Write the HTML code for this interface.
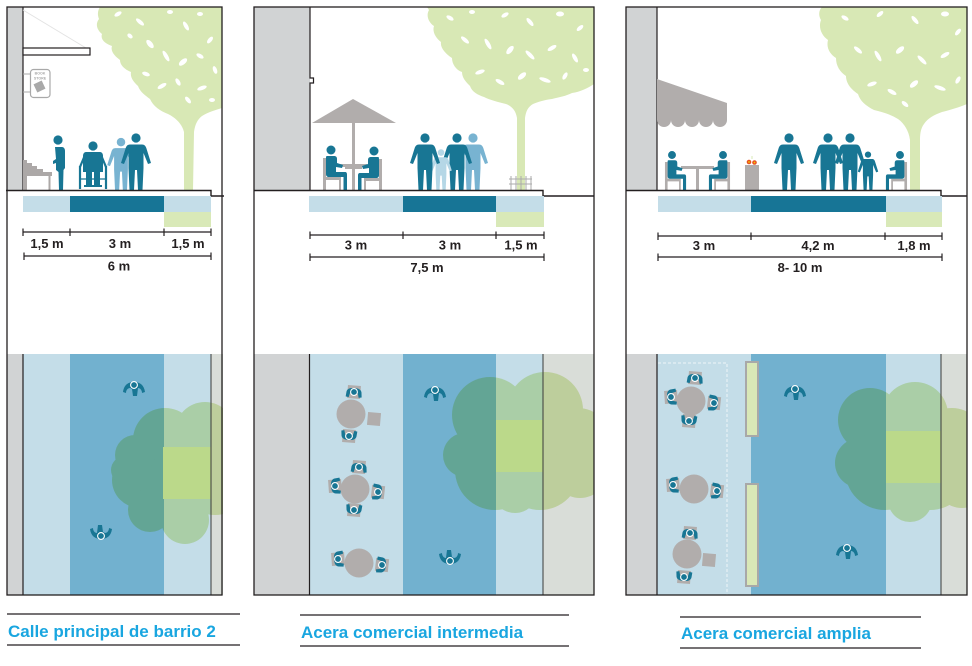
<!DOCTYPE html>
<html><head><meta charset="utf-8"><style>
html,body{margin:0;padding:0;background:#fff;}
svg{display:block}
text{font-family:"Liberation Sans",Arial,sans-serif;font-weight:bold}
</style></head><body>
<svg width="972" height="666" viewBox="0 0 972 666" xmlns="http://www.w3.org/2000/svg">
<defs>
<clipPath id="s1"><rect x="7" y="7" width="215" height="183.5"/></clipPath>
<clipPath id="s2"><rect x="254" y="7" width="340" height="183.5"/></clipPath>
<clipPath id="s3"><rect x="626" y="7" width="341" height="183.5"/></clipPath>
<clipPath id="p1"><rect x="7" y="354" width="216" height="241"/></clipPath>
<clipPath id="p2"><rect x="254" y="354" width="340" height="241"/></clipPath>
<clipPath id="p3"><rect x="626" y="354" width="341" height="241"/></clipPath>
<g id="st">
<circle cx="0" cy="-52" r="4.6"/>
<path d="M-6,-45.5 L6,-45.5 C8.5,-45.5 9.5,-44 10.3,-42 L15,-27 L12,-26 L7.5,-37 L7.5,-22 L6.5,0 L2,0 L1,-20 L-1,-20 L-2,0 L-6.5,0 L-7.5,-22 L-7.5,-37 L-12,-26 L-15,-27 L-10.3,-42 C-9.5,-44 -8.5,-45.5 -6,-45.5 Z"/>
</g>
<g id="sit">
<path fill="#b1adac" d="M-8,8 L-5,8 L-5,27 L10,27 L10,40 L8,40 L8,30 L-5,30 L-5,40 L-8,40 Z"/>
<circle cx="0" cy="0" r="4.5" fill="#187694"/>
<path fill="#187694" d="M-4,6 L3,6 C5,6 6,7 6,9 L6,13 L12,15 L11,18 L5,17 L5,22 L14,22 C15.5,22 16,23 16,24.5 L16,40 L12.5,40 L12.5,27 L-2,27 C-4,27 -5,26 -5,24 L-5,9 C-5,7 -5,6 -4,6 Z"/>
</g>
<g id="walk">
<path fill="#187694" d="M-11,7 C-10,0 -6,-3 0,-3 C6,-3 10,0 11,7 L8,8 C8,5 6,3 4,3 L3,11 L-1,11 L-2,4 L-4,3 C-6,3 -8,5 -8,8 Z"/>
<circle r="3.4" fill="#187694" stroke="#fff" stroke-width="1.1"/>
</g>
<g id="seat">
<rect x="-6.5" y="-6.5" width="13" height="13" fill="#b1adac"/>
<path fill="#187694" d="M-8,5 L-7.5,0 C-7,-3 -4,-4 0,-4 C4,-4 7,-3 7.5,0 L8,5 L5,5.5 L4,1.5 L-4,1.5 L-5,5.5 Z"/>
<circle r="3.4" fill="#187694" stroke="#fff" stroke-width="1.1"/>
</g>
</defs>

<!-- ============ PANEL 1 SECTION ============ -->
<g clip-path="url(#s1)">
<path fill="#d8e8b5" d="M100,7 L222,7 L222,108 C216,110 208,112 202,116 C198,119 195,124 194,132 L193,190 L184,190 L184,132 C182,124 176,118 168,114 C160,111 153,106 150,99 C146,96 140,92 138,86 C134,82 130,78 131,72 C126,70 120,66 120,60 C116,57 110,52 112,46 C106,44 100,40 102,34 C97,30 95,24 99,19 C97,14 98,10 100,7 Z"/>
<g fill="#fff">
<ellipse cx="118" cy="14" rx="4" ry="2" transform="rotate(-30 118 14)"/>
<ellipse cx="140" cy="22" rx="5" ry="2" transform="rotate(40 140 22)"/>
<ellipse cx="170" cy="12" rx="3" ry="2"/>
<ellipse cx="186" cy="26" rx="5" ry="2" transform="rotate(60 186 26)"/>
<ellipse cx="200" cy="14" rx="3" ry="2"/>
<ellipse cx="210" cy="40" rx="4" ry="2" transform="rotate(-50 210 40)"/>
<ellipse cx="150" cy="44" rx="5" ry="2.5" transform="rotate(50 150 44)"/>
<ellipse cx="166" cy="56" rx="6" ry="2" transform="rotate(60 166 56)"/>
<ellipse cx="183" cy="62" rx="5" ry="2.5" transform="rotate(-40 183 62)"/>
<ellipse cx="200" cy="56" rx="4" ry="2" transform="rotate(30 200 56)"/>
<ellipse cx="215" cy="70" rx="4" ry="2" transform="rotate(70 215 70)"/>
<ellipse cx="146" cy="74" rx="4" ry="2" transform="rotate(20 146 74)"/>
<ellipse cx="162" cy="86" rx="5" ry="2" transform="rotate(-30 162 86)"/>
<ellipse cx="178" cy="82" rx="4" ry="2" transform="rotate(60 178 82)"/>
<ellipse cx="202" cy="88" rx="5" ry="2" transform="rotate(-20 202 88)"/>
<ellipse cx="188" cy="100" rx="4" ry="2" transform="rotate(50 188 100)"/>
<ellipse cx="212" cy="100" rx="3" ry="2"/>
<ellipse cx="130" cy="36" rx="3" ry="2" transform="rotate(40 130 36)"/>
</g>
</g>
<rect x="7" y="7" width="16" height="183" fill="#d1d3d4"/>
<line x1="23" y1="7" x2="23" y2="190" stroke="#231f20" stroke-width="1.2"/>
<line x1="23" y1="10" x2="86" y2="48" stroke="#e3e3e3" stroke-width="1"/>
<rect x="23" y="48" width="67" height="7" fill="#fff" stroke="#231f20" stroke-width="1.2"/>
<line x1="23" y1="74" x2="31" y2="74" stroke="#a9a9a9" stroke-width="1"/>
<line x1="23" y1="92" x2="31" y2="92" stroke="#a9a9a9" stroke-width="1"/>
<rect x="30.5" y="69.5" width="19.5" height="28" rx="3" fill="#fff" stroke="#a9a9a9" stroke-width="1.2"/>
<text x="40" y="74.5" font-size="3.6" fill="#a9a9a9" text-anchor="middle">BOOK</text>
<text x="40" y="79.5" font-size="3.6" fill="#a9a9a9" text-anchor="middle">STORE</text>
<rect x="35" y="82" width="9" height="9" fill="#a9a9a9" transform="rotate(-25 39.5 86.5)"/>
<path fill="#aca8a7" d="M23,160 L27,160 L27,163 L32,163 L32,166 L37,166 L37,169 L43,169 L43,172 L52,172 L52,176 L50.5,176 L50.5,190 L48.5,190 L48.5,176 L27,176 L27,190 L23,190 Z"/>
<g fill="#187694">
<circle cx="58" cy="140" r="4.6"/>
<path d="M55,147 L62,147 C64,147 65,149 65,151 L65,168 L63.5,170 L63,190 L59,190 L58.5,172 L56,170 L56,163 L53,164 L53,161 L56,159 Z"/>
</g>
<g fill="#187694" stroke="none">
<circle cx="93" cy="146" r="4.6"/>
<path d="M86,152 L100,152 C102,152 103,154 103,156 L103,172 L83,172 L83,156 C83,154 84,152 86,152 Z"/>
<rect x="86" y="172" width="6" height="14"/>
<rect x="94" y="172" width="6" height="14"/>
<rect x="84" y="185" width="18" height="2"/>
</g>
<g stroke="#187694" stroke-width="2.2" fill="none">
<line x1="85" y1="155" x2="80" y2="167"/>
<line x1="101" y1="155" x2="106" y2="167"/>
<line x1="80" y1="166" x2="80" y2="189"/>
<line x1="106" y1="166" x2="106" y2="189"/>
<line x1="80" y1="179" x2="106" y2="179" stroke-width="1.2"/>
</g>
<g fill="#78b3d1" transform="translate(121,190) scale(0.92)"><use href="#st"/></g>
<g fill="#187694" transform="translate(136,190)"><use href="#st"/></g>
<path d="M6,190.5 L211,190.5 L211,196 L224,196" fill="none" stroke="#231f20" stroke-width="1.4"/>
<rect x="23" y="196" width="47" height="16" fill="#c4dde8"/>
<rect x="70" y="196" width="94" height="16" fill="#177596"/>
<rect x="164" y="196" width="47" height="16" fill="#c4dde8"/>
<rect x="164" y="212" width="47" height="15" fill="#d9e9b8"/>
<g stroke="#231f20" stroke-width="1.2">
<line x1="23" y1="232" x2="211" y2="232"/>
<line x1="23" y1="228.5" x2="23" y2="236"/>
<line x1="70" y1="228.5" x2="70" y2="236"/>
<line x1="164" y1="228.5" x2="164" y2="236"/>
<line x1="211" y1="228.5" x2="211" y2="236"/>
<line x1="24" y1="256" x2="211" y2="256"/>
<line x1="24" y1="252.5" x2="24" y2="260"/>
<line x1="211" y1="252.5" x2="211" y2="260"/>
</g>
<g font-size="13" fill="#231f20" text-anchor="middle">
<text x="47" y="248">1,5 m</text>
<text x="120" y="248">3 m</text>
<text x="188" y="248">1,5 m</text>
<text x="119" y="270.5">6 m</text>
</g>

<!-- ============ PANEL 1 PLAN ============ -->
<g clip-path="url(#p1)">
<rect x="7" y="354" width="16" height="241" fill="#d1d3d4"/>
<rect x="23" y="354" width="47" height="241" fill="#c4dde8"/>
<rect x="70" y="354" width="94" height="241" fill="#72b1cf"/>
<rect x="164" y="354" width="47" height="241" fill="#c4dde8"/>
<rect x="211" y="354" width="12" height="241" fill="#d9ddd8"/>
<g style="mix-blend-mode:multiply">
<g fill="#deeeb8">
<circle cx="165" cy="440" r="32"/><circle cx="205" cy="432" r="30"/><circle cx="140" cy="480" r="28"/><circle cx="175" cy="490" r="40"/><circle cx="215" cy="480" r="35"/><circle cx="185" cy="520" r="24"/><circle cx="150" cy="510" r="22"/><circle cx="125" cy="470" r="14"/><circle cx="135" cy="455" r="20"/>
</g>
</g>
</g>
<rect x="163" y="447" width="48" height="52" fill="#bbd98a"/>
<use href="#walk" x="134" y="385"/>
<g transform="translate(101,536) rotate(180)"><use href="#walk"/></g>
<line x1="23" y1="354" x2="23" y2="595" stroke="#231f20" stroke-width="1.2"/>
<line x1="211" y1="354" x2="211" y2="595" stroke="#3a3a3a" stroke-width="1"/>
<rect x="7" y="7" width="215" height="588" fill="none" stroke="#231f20" stroke-width="1.3"/>

<!-- ============ PANEL 2 SECTION ============ -->
<g clip-path="url(#s2)">
<path fill="#d8e8b5" d="M427,7 L594,7 L594,84 C588,88 580,92 572,93 C566,96 560,97 552,99 C544,100 538,102 533,104 C528,107 526,111 525,118 L525,190 L517,190 L517,118 C516,111 512,106 506,104 C498,102 490,100 484,97 C478,95 472,92 470,86 C466,82 462,78 462,72 C456,70 452,64 452,58 C446,54 440,48 441,42 C436,38 432,32 434,26 C428,22 426,15 429,10 Z"/>
<g fill="#fff">
<ellipse cx="450" cy="18" rx="4" ry="2" transform="rotate(30 450 18)"/>
<ellipse cx="472" cy="12" rx="3" ry="2"/>
<ellipse cx="505" cy="15" rx="4" ry="2" transform="rotate(-30 505 15)"/>
<ellipse cx="530" cy="22" rx="5" ry="2" transform="rotate(50 530 22)"/>
<ellipse cx="560" cy="14" rx="4" ry="2.5"/>
<ellipse cx="580" cy="28" rx="4" ry="2" transform="rotate(-40 580 28)"/>
<ellipse cx="465" cy="40" rx="5" ry="2" transform="rotate(40 465 40)"/>
<ellipse cx="488" cy="44" rx="6" ry="2" transform="rotate(60 488 44)"/>
<ellipse cx="510" cy="50" rx="5" ry="2.5" transform="rotate(-50 510 50)"/>
<ellipse cx="530" cy="55" rx="6" ry="2" transform="rotate(45 530 55)"/>
<ellipse cx="552" cy="48" rx="5" ry="2" transform="rotate(-30 552 48)"/>
<ellipse cx="575" cy="58" rx="5" ry="2" transform="rotate(60 575 58)"/>
<ellipse cx="480" cy="72" rx="5" ry="2" transform="rotate(-20 480 72)"/>
<ellipse cx="500" cy="82" rx="5" ry="2" transform="rotate(30 500 82)"/>
<ellipse cx="522" cy="76" rx="5" ry="2.5" transform="rotate(-40 522 76)"/>
<ellipse cx="545" cy="80" rx="6" ry="2" transform="rotate(20 545 80)"/>
<ellipse cx="565" cy="76" rx="4" ry="2" transform="rotate(-60 565 76)"/>
<ellipse cx="586" cy="70" rx="3" ry="2"/>
</g>
</g>
<rect x="254" y="7" width="56" height="183" fill="#d1d3d4"/>
<path d="M310,7 L310,78 L313.5,78 L313.5,83 L310,83 L310,190" fill="none" stroke="#231f20" stroke-width="1.2"/>
<path fill="#b1adac" d="M312,123 L353,99 L396,123 Z"/>
<rect x="352" y="123" width="3" height="67" fill="#b1adac"/>
<rect x="340" y="164" width="27" height="3" fill="#b1adac"/>
<rect x="345" y="167" width="17" height="2" fill="#b1adac"/>
<use href="#sit" x="331" y="150"/>
<g transform="translate(374,151) scale(-1,1)"><use href="#sit"/></g>
<g stroke="#ababab" stroke-width="1" fill="none">
<line x1="509" y1="179" x2="532" y2="179"/><line x1="509" y1="184" x2="532" y2="184"/>
<line x1="511" y1="176" x2="511" y2="190"/><line x1="516" y1="176" x2="516" y2="190"/><line x1="521" y1="176" x2="521" y2="190"/><line x1="526" y1="176" x2="526" y2="190"/><line x1="531" y1="176" x2="531" y2="190"/>
</g>
<g fill="#78b3d1" transform="translate(473,190)"><use href="#st"/></g>
<g fill="#187694" transform="translate(457,190)"><use href="#st"/></g>
<g fill="#b5d7e6" transform="translate(441,190) scale(0.72)"><use href="#st"/></g>
<g fill="#187694" transform="translate(425,190)"><use href="#st"/></g>
<path d="M254,190.5 L543,190.5 L543,196 L594,196" fill="none" stroke="#231f20" stroke-width="1.4"/>
<rect x="309" y="196" width="94" height="16" fill="#c4dde8"/>
<rect x="403" y="196" width="93" height="16" fill="#177596"/>
<rect x="496" y="196" width="48" height="16" fill="#c4dde8"/>
<rect x="496" y="212" width="48" height="15" fill="#d9e9b8"/>
<g stroke="#231f20" stroke-width="1.2">
<line x1="310" y1="235" x2="544" y2="235"/>
<line x1="310" y1="231.5" x2="310" y2="239"/>
<line x1="403" y1="231.5" x2="403" y2="239"/>
<line x1="496" y1="231.5" x2="496" y2="239"/>
<line x1="544" y1="231.5" x2="544" y2="239"/>
<line x1="310" y1="257" x2="544" y2="257"/>
<line x1="310" y1="253.5" x2="310" y2="261"/>
<line x1="544" y1="253.5" x2="544" y2="261"/>
</g>
<g font-size="13" fill="#231f20" text-anchor="middle">
<text x="356" y="249.5">3 m</text>
<text x="450" y="249.5">3 m</text>
<text x="521" y="249.5">1,5 m</text>
<text x="427" y="272">7,5 m</text>
</g>

<!-- ============ PANEL 2 PLAN ============ -->
<g clip-path="url(#p2)">
<rect x="254" y="354" width="55" height="241" fill="#d1d3d4"/>
<rect x="309" y="354" width="94" height="241" fill="#c4dde8"/>
<rect x="403" y="354" width="93" height="241" fill="#72b1cf"/>
<rect x="496" y="354" width="47" height="241" fill="#c4dde8"/>
<rect x="543" y="354" width="51" height="241" fill="#d9ddd8"/>
<g style="mix-blend-mode:multiply">
<g fill="#deeeb8">
<circle cx="490" cy="415" r="38"/><circle cx="545" cy="410" r="38"/><circle cx="578" cy="440" r="32"/><circle cx="465" cy="455" r="22"/><circle cx="495" cy="470" r="40"/><circle cx="540" cy="470" r="40"/><circle cx="580" cy="470" r="28"/><circle cx="515" cy="490" r="23"/>
</g>
</g>
</g>
<rect x="496" y="420" width="47" height="52" fill="#bbd98a"/>
<g fill="#b1adac">
<circle cx="351" cy="414" r="14.5"/>
<circle cx="355" cy="489" r="14.5"/>
<circle cx="359" cy="563" r="14.5"/>
<rect x="367.5" y="412.5" width="13" height="13" transform="rotate(5 374 419)"/>
</g>
<g transform="translate(354,392) rotate(4)"><use href="#seat"/></g>
<g transform="translate(349,436) rotate(184)"><use href="#seat"/></g>
<g transform="translate(359,467) rotate(4)"><use href="#seat"/></g>
<g transform="translate(335,486) rotate(-94)"><use href="#seat"/></g>
<g transform="translate(378,492) rotate(96)"><use href="#seat"/></g>
<g transform="translate(354,510) rotate(184)"><use href="#seat"/></g>
<g transform="translate(338,559) rotate(-94)"><use href="#seat"/></g>
<g transform="translate(382,565) rotate(96)"><use href="#seat"/></g>
<use href="#walk" x="435" y="390"/>
<g transform="translate(450,561) rotate(180)"><use href="#walk"/></g>
<line x1="309.5" y1="354" x2="309.5" y2="595" stroke="#231f20" stroke-width="1.2"/>
<line x1="543" y1="354" x2="543" y2="595" stroke="#3a3a3a" stroke-width="1"/>
<rect x="254" y="7" width="340" height="588" fill="none" stroke="#231f20" stroke-width="1.3"/>

<!-- ============ PANEL 3 SECTION ============ -->
<g clip-path="url(#s3)">
<path fill="#d8e8b5" d="M822,7 L967,7 L967,104 C960,107 950,110 942,112 C934,115 928,118 924,124 C921,128 920,133 920,140 L920,190 L910,190 L910,140 C909,132 905,124 898,119 C890,114 882,112 874,110 C866,106 860,101 858,94 C852,90 846,84 846,76 C840,72 836,66 836,58 C830,54 826,48 828,40 C822,36 818,28 821,20 C818,15 819,10 822,7 Z"/>
<g fill="#fff">
<ellipse cx="845" cy="18" rx="4" ry="2" transform="rotate(30 845 18)"/>
<ellipse cx="880" cy="14" rx="4" ry="2" transform="rotate(-40 880 14)"/>
<ellipse cx="915" cy="20" rx="5" ry="2" transform="rotate(50 915 20)"/>
<ellipse cx="945" cy="14" rx="4" ry="2.5"/>
<ellipse cx="958" cy="32" rx="4" ry="2" transform="rotate(-50 958 32)"/>
<ellipse cx="858" cy="50" rx="5" ry="2" transform="rotate(40 858 50)"/>
<ellipse cx="878" cy="56" rx="6" ry="2" transform="rotate(60 878 56)"/>
<ellipse cx="900" cy="50" rx="5" ry="2.5" transform="rotate(-40 900 50)"/>
<ellipse cx="922" cy="60" rx="6" ry="2" transform="rotate(45 922 60)"/>
<ellipse cx="945" cy="55" rx="5" ry="2" transform="rotate(-30 945 55)"/>
<ellipse cx="872" cy="84" rx="5" ry="2" transform="rotate(-20 872 84)"/>
<ellipse cx="892" cy="92" rx="5" ry="2" transform="rotate(30 892 92)"/>
<ellipse cx="914" cy="84" rx="5" ry="2.5" transform="rotate(-40 914 84)"/>
<ellipse cx="940" cy="88" rx="6" ry="2" transform="rotate(20 940 88)"/>
<ellipse cx="958" cy="80" rx="4" ry="2" transform="rotate(-60 958 80)"/>
<ellipse cx="905" cy="104" rx="4" ry="2" transform="rotate(40 905 104)"/>
</g>
</g>
<rect x="626" y="7" width="31" height="183" fill="#d1d3d4"/>
<line x1="657" y1="7" x2="657" y2="190" stroke="#231f20" stroke-width="1.2"/>
<path fill="#b1adac" d="M657,79 L727,103 L727,120 A7,7 0 0 1 713,120 A7,7 0 0 1 699,120 A7,7 0 0 1 685,120 A7,7 0 0 1 671,120 A7,7 0 0 1 657,120 Z"/>
<rect x="681" y="166" width="33" height="3" fill="#b1adac"/>
<rect x="696" y="169" width="3" height="21" fill="#b1adac"/>
<g transform="translate(672,155) scale(0.88)"><use href="#sit"/></g>
<g transform="translate(723,155) scale(-0.88,0.88)"><use href="#sit"/></g>
<g transform="translate(900,155) scale(-0.88,0.88)"><use href="#sit"/></g>
<rect x="745" y="165" width="14" height="25" fill="#b1adac"/>
<circle cx="749" cy="162" r="2.3" fill="#e8501f"/><circle cx="749" cy="162" r="0.9" fill="#f5c400"/>
<circle cx="754.5" cy="162.5" r="2.3" fill="#e8501f"/><circle cx="754.5" cy="162.5" r="0.9" fill="#f5c400"/>
<line x1="752" y1="159" x2="752" y2="156" stroke="#d8e8b5" stroke-width="1"/>
<g fill="#187694" transform="translate(789,190)"><use href="#st"/></g>
<g fill="#187694" transform="translate(828,190)"><use href="#st"/></g>
<g fill="#187694" transform="translate(850,190)"><use href="#st"/></g>
<g fill="#187694" transform="translate(868,190) scale(0.68)"><use href="#st"/></g>
<path d="M626,190.5 L941,190.5 L941,196 L967,196" fill="none" stroke="#231f20" stroke-width="1.4"/>
<rect x="658" y="196" width="93" height="16" fill="#c4dde8"/>
<rect x="751" y="196" width="135" height="16" fill="#177596"/>
<rect x="886" y="196" width="56" height="16" fill="#c4dde8"/>
<rect x="886" y="212" width="56" height="15" fill="#d9e9b8"/>
<g stroke="#231f20" stroke-width="1.2">
<line x1="658" y1="236" x2="942" y2="236"/>
<line x1="658" y1="232.5" x2="658" y2="240"/>
<line x1="751" y1="232.5" x2="751" y2="240"/>
<line x1="885" y1="232.5" x2="885" y2="240"/>
<line x1="942" y1="232.5" x2="942" y2="240"/>
<line x1="658" y1="257" x2="942" y2="257"/>
<line x1="658" y1="253.5" x2="658" y2="261"/>
<line x1="942" y1="253.5" x2="942" y2="261"/>
</g>
<g font-size="13" fill="#231f20" text-anchor="middle">
<text x="704" y="250">3 m</text>
<text x="818" y="250">4,2 m</text>
<text x="914" y="250">1,8 m</text>
<text x="800" y="272">8- 10 m</text>
</g>

<!-- ============ PANEL 3 PLAN ============ -->
<g clip-path="url(#p3)">
<rect x="626" y="354" width="31" height="241" fill="#d1d3d4"/>
<rect x="657" y="354" width="94" height="241" fill="#c4dde8"/>
<rect x="751" y="354" width="135" height="241" fill="#72b1cf"/>
<rect x="886" y="354" width="55" height="241" fill="#c4dde8"/>
<rect x="941" y="354" width="26" height="241" fill="#d9ddd8"/>
<g style="mix-blend-mode:multiply">
<g fill="#deeeb8">
<circle cx="870" cy="420" r="32"/><circle cx="915" cy="415" r="33"/><circle cx="952" cy="440" r="32"/><circle cx="860" cy="463" r="25"/><circle cx="885" cy="470" r="40"/><circle cx="930" cy="470" r="40"/><circle cx="962" cy="480" r="28"/><circle cx="910" cy="500" r="22"/>
</g>
</g>
</g>
<rect x="886" y="431" width="55" height="52" fill="#bbd98a"/>
<path d="M658,363 L727,363 L727,595" fill="none" stroke="#eef5f8" stroke-width="1" stroke-dasharray="3 2"/>
<rect x="746" y="362" width="12" height="74" fill="#d9e8b7" stroke="#a8a8a8" stroke-width="2"/>
<rect x="746" y="484" width="12" height="102" fill="#d9e8b7" stroke="#a8a8a8" stroke-width="2"/>
<g fill="#b1adac">
<circle cx="691" cy="401" r="14.5"/>
<circle cx="694" cy="489" r="14.5"/>
<circle cx="687" cy="554" r="14.5"/>
<rect x="702.5" y="553.5" width="13" height="13" transform="rotate(5 709 560)"/>
</g>
<g transform="translate(695,378) rotate(4)"><use href="#seat"/></g>
<g transform="translate(671,397) rotate(-94)"><use href="#seat"/></g>
<g transform="translate(714,403) rotate(96)"><use href="#seat"/></g>
<g transform="translate(689,421) rotate(184)"><use href="#seat"/></g>
<g transform="translate(673,485) rotate(-94)"><use href="#seat"/></g>
<g transform="translate(717,491) rotate(96)"><use href="#seat"/></g>
<g transform="translate(690,533) rotate(4)"><use href="#seat"/></g>
<g transform="translate(684,577) rotate(184)"><use href="#seat"/></g>
<use href="#walk" x="795" y="389"/>
<use href="#walk" x="847" y="548"/>
<line x1="657" y1="354" x2="657" y2="595" stroke="#231f20" stroke-width="1.2"/>
<line x1="941" y1="354" x2="941" y2="595" stroke="#3a3a3a" stroke-width="1"/>
<rect x="626" y="7" width="341" height="588" fill="none" stroke="#231f20" stroke-width="1.3"/>

<!-- ============ TITLES ============ -->
<g stroke="#231f20" stroke-width="1.3">
<line x1="7" y1="614" x2="240" y2="614"/>
<line x1="7" y1="645" x2="240" y2="645"/>
<line x1="300" y1="615" x2="569" y2="615"/>
<line x1="300" y1="646" x2="569" y2="646"/>
<line x1="680" y1="617" x2="921" y2="617"/>
<line x1="680" y1="648" x2="921" y2="648"/>
</g>
<g font-size="17" fill="#19a6e0">
<text x="8" y="637">Calle principal de barrio 2</text>
<text x="301" y="638">Acera comercial intermedia</text>
<text x="681" y="639">Acera comercial amplia</text>
</g>
</svg>
</body></html>
